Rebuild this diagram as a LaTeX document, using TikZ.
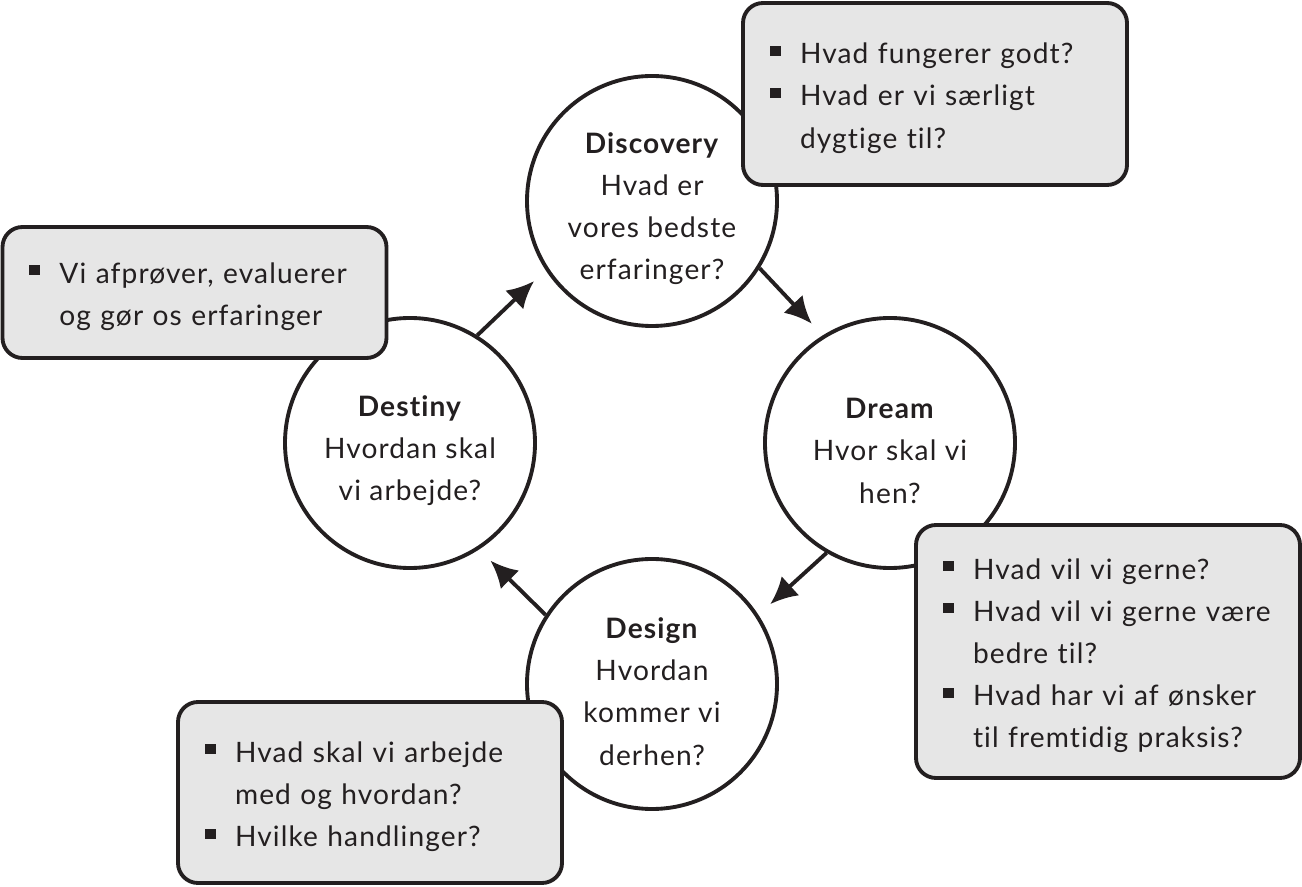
\documentclass[tikz,border=0pt]{standalone}
\usepackage{fontspec}
\setmainfont{Lato}[LetterSpace=4.0, Ligatures=NoCommon]
\usetikzlibrary{arrows.meta}

\definecolor{ink}{HTML}{231F20}
\definecolor{notegray}{HTML}{E6E6E6}

\newcommand{\bul}{\makebox[0.3cm][l]{\rule[0.08cm]{0.11cm}{0.1cm}}}
\newcommand{\ind}{\hspace*{0.3cm}}
\newcommand{\phase}[1]{\rule{0pt}{0.36cm}\textbf{#1}}

\begin{document}
\begin{tikzpicture}[font=\fontsize{8}{12}\selectfont, text=ink,
  stage/.style={circle, draw=ink, line width=1.1pt, fill=white, minimum size=2.5cm, inner sep=0pt, align=center},
  notebox/.style={draw=ink, line width=1.1pt, fill=notegray, rounded corners=0.2cm, text width=3.30cm, inner xsep=0.27cm, inner ysep=0pt, align=left, execute at begin node={\rule{0pt}{0.29cm}}},
  flow/.style={-{Latex[length=0.27cm,width=0.26cm]}, draw=ink, line width=1.1pt, shorten >=0.16cm}]
\useasboundingbox (0,0) rectangle (13.02,8.86);

% The four phases
\node[stage] (disc) at (6.52,6.85) {\phase{Discovery}\\Hvad er\\vores bedste\\erfaringer?};
\node[stage] (dream) at (8.90,4.43) {\phase{Dream}\\Hvor skal vi\\hen?};
\node[stage] (design) at (6.52,2.02) {\phase{Design}\\Hvordan\\kommer vi\\derhen?};
\node[stage] (destiny) at (4.10,4.43) {\phase{Destiny}\\Hvordan skal\\vi arbejde?};

% Cycle
\draw[flow] (disc.-32) -- (dream.122);
\draw[flow] (dream.240) -- (design.33);
\draw[flow] (design.147) -- (destiny.-57);
\draw[flow] (destiny.58) -- (disc.213);

% Questions
\node[notebox, minimum height=1.82cm] (discnote) at (9.35,7.92) {\bul Hvad fungerer godt?\\\bul Hvad er vi særligt\\\ind dygtige til?};
\node[notebox, minimum height=1.31cm] (destinynote) at (1.945,5.935) {\bul Vi afprøver, evaluerer\\\ind og gør os erfaringer};
\node[notebox, minimum height=2.53cm] (dreamnote) at (11.08,2.345) {\bul Hvad vil vi gerne?\\\bul Hvad vil vi gerne være\\\ind bedre til?\\\bul Hvad har vi af ønsker\\\ind til fremtidig praksis?};
\node[notebox, minimum height=1.81cm] (designnote) at (3.70,0.935) {\bul Hvad skal vi arbejde\\\ind med og hvordan?\\\bul Hvilke handlinger?};

\end{tikzpicture}
\end{document}
